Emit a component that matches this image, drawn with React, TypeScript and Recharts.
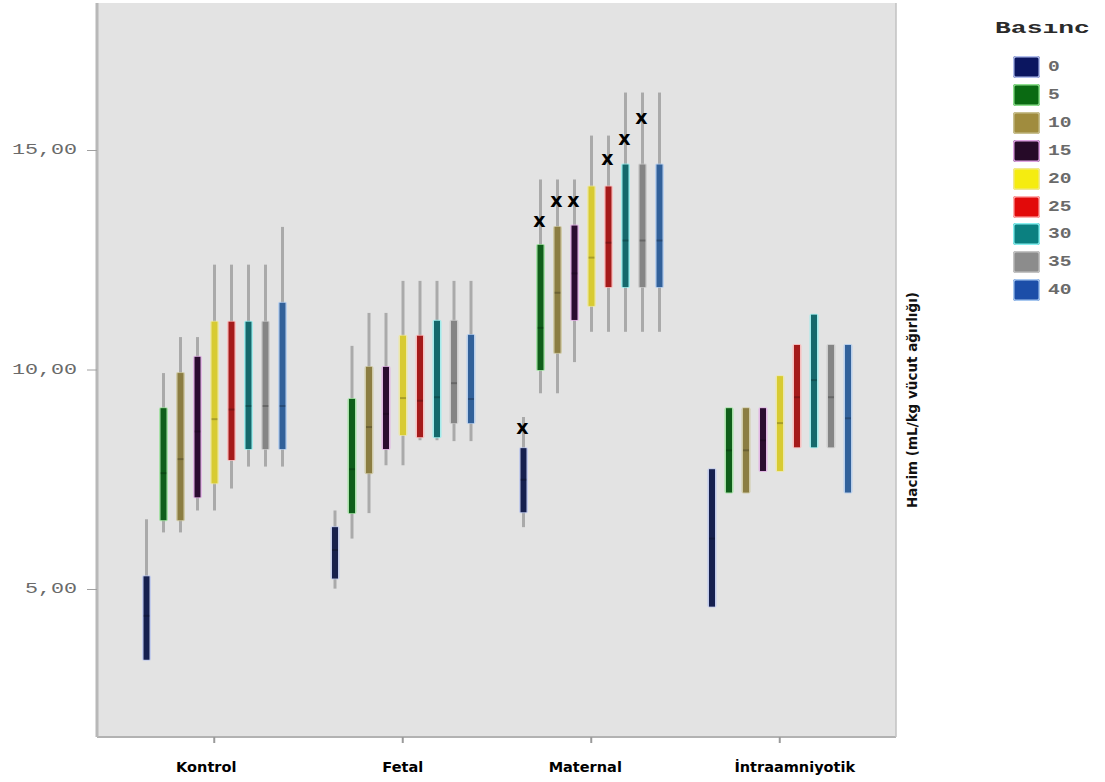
import React from "react";
import {
  Bar,
  BarChart,
  CartesianGrid,
  Legend,
  XAxis,
  YAxis,
} from "recharts";

// groups on the x axis and pressure levels (one box per level)
const categories = ["Kontrol", "Fetal", "Maternal", "İntraamniyotik"];
const pressures = ["0", "5", "10", "15", "20", "25", "30", "35", "40"];

// box-plot statistics, one row per group, one column per pressure
const whiskerHigh = [
  [6.6, 9.93, 10.75, 10.75, 12.4, 12.4, 12.4, 12.4, 13.26],
  [6.8, 10.55, 11.3, 11.3, 12.03, 12.03, 12.03, 12.03, 12.03],
  [8.93, 14.34, 14.34, 14.34, 15.34, 15.34, 16.32, 16.32, 16.32],
  [7.74, 9.13, 9.13, 9.13, 9.86, 10.57, 11.26, 10.57, 10.57],
];
const q3 = [
  [5.3, 9.13, 9.93, 10.3, 11.1, 11.1, 11.1, 11.1, 11.53],
  [6.42, 9.34, 10.07, 10.07, 10.78, 10.78, 11.12, 11.12, 10.8],
  [8.22, 12.85, 13.26, 13.29, 14.18, 14.18, 14.68, 14.68, 14.68],
  [7.74, 9.13, 9.13, 9.13, 9.86, 10.57, 11.26, 10.57, 10.57],
];
const median = [
  [4.4, 7.65, 7.97, 8.6, 8.88, 9.1, 9.18, 9.18, 9.18],
  [5.9, 7.74, 8.7, 9.0, 9.36, 9.3, 9.38, 9.7, 9.34],
  [7.5, 10.96, 11.76, 12.2, 12.56, 12.9, 12.95, 12.95, 12.95],
  [6.16, 8.17, 8.17, 8.4, 8.79, 9.38, 9.77, 9.38, 8.9],
];
const q1 = [
  [3.4, 6.58, 6.58, 7.1, 7.42, 7.95, 8.2, 8.2, 8.2],
  [5.25, 6.74, 7.65, 8.2, 8.52, 8.47, 8.47, 8.79, 8.79],
  [6.76, 10.0, 10.39, 11.14, 11.46, 11.89, 11.89, 11.89, 11.89],
  [4.61, 7.21, 7.21, 7.7, 7.7, 8.24, 8.24, 8.24, 7.21],
];
const whiskerLow = [
  [3.4, 6.3, 6.3, 6.8, 6.8, 7.3, 7.8, 7.8, 7.8],
  [5.02, 6.16, 6.74, 7.83, 7.83, 8.4, 8.4, 8.38, 8.38],
  [6.42, 9.47, 9.47, 10.18, 10.87, 10.87, 10.87, 10.87, 10.87],
  [4.61, 7.21, 7.21, 7.7, 7.7, 8.24, 8.24, 8.24, 7.21],
];
// "x" significance markers (value where the marker sits), null = none
const markers = [
  [null, null, null, null, null, null, null, null, null],
  [null, null, null, null, null, null, null, null, null],
  [8.7, 13.42, 13.87, 13.87, null, 14.83, 15.28, 15.76, null],
  [null, null, null, null, null, null, null, null, null],
];

const yTicks = [5, 10, 15];

const legendColors = [
  "#0b1660", "#0a6a12", "#a08c3e", "#260a28", "#f5ec10",
  "#e20a0a", "#0b8080", "#8c8c8c", "#1c4ea8",
];
const boxColors = [
  "#16204f", "#0f5e1a", "#8b7d42", "#2b0c30", "#d8cb32",
  "#a51b1b", "#15696c", "#858585", "#32619a",
];
const haloColors = [
  "#b4c0ee", "#8fe08f", "#c8c090", "#e0a4e4", "#f0e890",
  "#ffb0b0", "#88f0f0", "#c4c4c4", "#a8c8f0",
];
const tickLabelDx = [-8, 0, -6, 15];

const rows = categories.map((name, c) => {
  const row: Record<string, unknown> = { name };
  pressures.forEach((p, s) => {
    row[`p${p}`] = [whiskerLow[c][s], whiskerHigh[c][s]];
  });
  return row;
});

function BoxShape(props: any) {
  const { x, y, width, height, index, s } = props;
  const lo = whiskerLow[index][s];
  const hi = whiskerHigh[index][s];
  const ppu = height / (hi - lo);
  const py = (v: number) => y + (hi - v) * ppu;
  const cx = x + width / 2;
  const top = py(q3[index][s]);
  const bottom = py(q1[index][s]);
  const mark = markers[index][s];
  return (
    <g>
      <line x1={cx} x2={cx} y1={y} y2={y + height} stroke="#aaaaaa" strokeWidth={3} />
      <rect x={cx - 4.5} y={top - 1} width={9} height={bottom - top + 2} rx={2} fill={haloColors[s]} opacity={0.7} />
      <rect x={cx - 3} y={top} width={6} height={bottom - top} fill={boxColors[s]} />
      <line x1={cx - 3} x2={cx + 3} y1={py(median[index][s])} y2={py(median[index][s])} stroke="rgba(0,0,0,0.22)" strokeWidth={2} />
      {mark != null && (
        <text
          x={cx - 1}
          y={py(mark)}
          textAnchor="middle"
          dominantBaseline="central"
          fontFamily="DejaVu Sans"
          fontWeight="bold"
          fontSize={19}
          fill="#000"
        >
          x
        </text>
      )}
    </g>
  );
}

function YTick({ x, y, payload }: any) {
  const label = payload.value.toFixed(2).replace(".", ",");
  return (
    <text
      transform={`translate(${x},${y}) scale(1.55,1)`}
      textAnchor="end"
      dominantBaseline="central"
      fontFamily="Liberation Mono"
      fontSize={14}
      fill="#6a6a6a"
    >
      {label}
    </text>
  );
}

function XTick({ x, y, payload, index }: any) {
  return (
    <text
      x={x + (tickLabelDx[index] ?? 0)}
      y={y}
      dy={9}
      textAnchor="middle"
      fontFamily="DejaVu Sans"
      fontWeight="bold"
      fontSize={14.5}
      fill="#000"
    >
      {payload.value}
    </text>
  );
}

function PressureLegend() {
  return (
    <div style={{ position: "relative", width: 112, height: 310, fontFamily: "Liberation Mono" }}>
      <div
        style={{
          position: "absolute",
          left: 5,
          top: 19,
          fontSize: 17,
          fontWeight: "bold",
          color: "#2a2a2a",
          lineHeight: "20px",
          transform: "scaleX(1.55)",
          transformOrigin: "left center",
        }}
      >
        Basınc
      </div>
      {pressures.map((p, i) => (
        <div key={p} style={{ position: "absolute", left: 0, top: 56 + i * 27.9, height: 22 }}>
          <div
            style={{
              position: "absolute",
              left: 23,
              top: 0,
              width: 27,
              height: 22,
              borderRadius: 3,
              background: legendColors[i],
              boxShadow: `inset 0 0 0 1.5px ${haloColors[i]}`,
            }}
          />
          <div
            style={{
              position: "absolute",
              left: 58,
              top: 2,
              fontSize: 14,
              fontWeight: "bold",
              lineHeight: "18px",
              color: "#6a6a6a",
              transform: "scaleX(1.4)",
              transformOrigin: "left center",
            }}
          >
            {p}
          </div>
        </div>
      ))}
    </div>
  );
}

export default function App() {
  return (
    <div style={{ position: "absolute", left: 0, top: 0, background: "#fff" }}>
      <BarChart
        width={1105}
        height={782}
        data={rows}
        barSize={17}
        barGap={0}
        margin={{ top: 3, right: 179, bottom: 0, left: 0 }}
      >
        <CartesianGrid horizontal={false} vertical={false} fill="#e3e3e3" />
        <XAxis
          dataKey="name"
          height={45}
          padding={{ left: 23, right: 22 }}
          axisLine={{ stroke: "#b2b2b2", strokeWidth: 2 }}
          tickLine={{ stroke: "#9a9a9a", strokeWidth: 2 }}
          tickSize={6}
          tickMargin={20}
          tick={<XTick />}
        />
        <XAxis
          xAxisId="top"
          dataKey="name"
          orientation="top"
          height={0}
          tick={false}
          tickLine={false}
          axisLine={{ stroke: "#cdcdcd", strokeWidth: 1.5 }}
        />
        <YAxis
          type="number"
          domain={[1.64, 18.36]}
          ticks={yTicks}
          width={97}
          axisLine={{ stroke: "#b8b8b8", strokeWidth: 3 }}
          tickLine={{ stroke: "#a0a0a0" }}
          tickSize={10}
          tickMargin={10}
          tick={<YTick />}
        />
        <YAxis
          yAxisId="right"
          orientation="right"
          type="number"
          domain={[1.64, 18.36]}
          width={30}
          tick={false}
          tickLine={false}
          axisLine={{ stroke: "#c2c2c2", strokeWidth: 1.5 }}
          label={{
            content: (p: any) => {
              const vb = p.viewBox;
              return (
                <text
                  transform={`translate(${vb.x + 16},${vb.y + vb.height / 2 + 30}) rotate(-90)`}
                  textAnchor="middle"
                  dominantBaseline="central"
                  fontFamily="DejaVu Sans"
                  fontWeight="bold"
                  fontSize={13.5}
                  fill="#111"
                >
                  Hacim (mL/kg vücut ağırlığı)
                </text>
              );
            },
          }}
        />
        <Legend
          layout="horizontal"
          align="center"
          verticalAlign="middle"
          content={() => <PressureLegend />}
          wrapperStyle={{ left: 990, top: 0, width: 112, height: 310 }}
        />
        {pressures.map((p, s) => (
          <Bar
            key={p}
            dataKey={`p${p}`}
            name={p}
            fill={legendColors[s]}
            isAnimationActive={false}
            shape={(props: any) => <BoxShape {...props} s={s} />}
          />
        ))}
      </BarChart>
    </div>
  );
}
